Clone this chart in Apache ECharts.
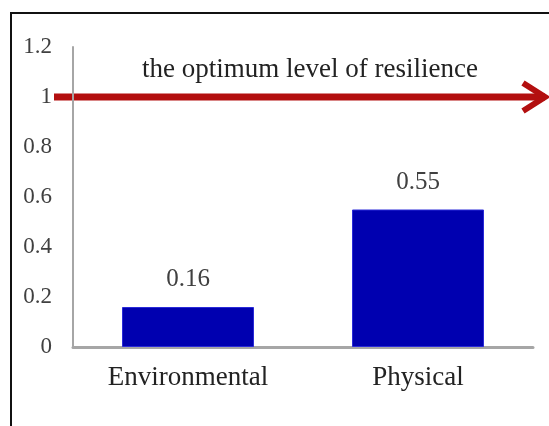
<!DOCTYPE html>
<html><head><meta charset="utf-8">
<script src="https://cdn.jsdelivr.net/npm/echarts@6/dist/echarts.min.js"></script>
<style>html,body{margin:0;padding:0;background:#fff}#c{width:549px;height:426px}</style>
</head><body><div id="c"></div>
<script>
const categories = ['Environmental', 'Physical'];
const resilienceValues = [0.16, 0.55];
const yTickLabels = ['0', '0.2', '0.4', '0.6', '0.8', '1', '1.2'];
const optimumLevel = 1;
const optimumText = 'the optimum level of resilience';

const chart = echarts.init(document.getElementById('c'));
chart.setOption({
  animation: false,
  grid: { left: 73, right: 16, top: 47, bottom: 79 },
  xAxis: {
    type: 'category', data: categories,
    axisLine: { lineStyle: { color: '#a6a6a6', width: 3 } },
    axisTick: { show: false },
    axisLabel: { fontFamily: 'Liberation Serif', fontSize: 27, color: '#222', margin: 17 }
  },
  yAxis: {
    type: 'value', min: 0, max: 1.2, interval: 0.2,
    axisLine: { show: true, lineStyle: { color: '#a6a6a6', width: 2 } },
    splitLine: { show: false }, axisTick: { show: false },
    axisLabel: {
      fontFamily: 'Liberation Serif', fontSize: 23, color: '#404040', margin: 21,
      formatter: function (v) { return yTickLabels[Math.round(v / 0.2)]; }
    }
  },
  series: [{
    type: 'bar', data: resilienceValues, barWidth: 132,
    itemStyle: { color: '#0000b0', borderColor: '#2a2ad8', borderWidth: 1 },
    label: { show: true, position: 'top', distance: 15, fontFamily: 'Liberation Serif', fontSize: 25, color: '#404040' }
  }]
});

const yLine = chart.convertToPixel({ yAxisIndex: 0 }, optimumLevel);
chart.setOption({
  graphic: [
    { type: 'rect', shape: { x: 11, y: 13, width: 700, height: 600 }, style: { fill: 'none', stroke: '#111', lineWidth: 2 }, silent: true },
    { type: 'line', shape: { x1: 54, y1: yLine, x2: 545, y2: yLine }, style: { stroke: '#b30f0f', lineWidth: 7 }, silent: true },
    { type: 'polyline', shape: { points: [[523, yLine - 14], [545, yLine], [523, yLine + 14]] }, style: { stroke: '#b30f0f', lineWidth: 6, fill: 'none', lineJoin: 'miter' }, silent: true },
    { type: 'text', x: 310, y: yLine - 27, style: { text: optimumText, fontFamily: 'Liberation Serif', fontSize: 27, fill: '#222', align: 'center', verticalAlign: 'middle' }, silent: true }
  ]
});
</script>
</body></html>
